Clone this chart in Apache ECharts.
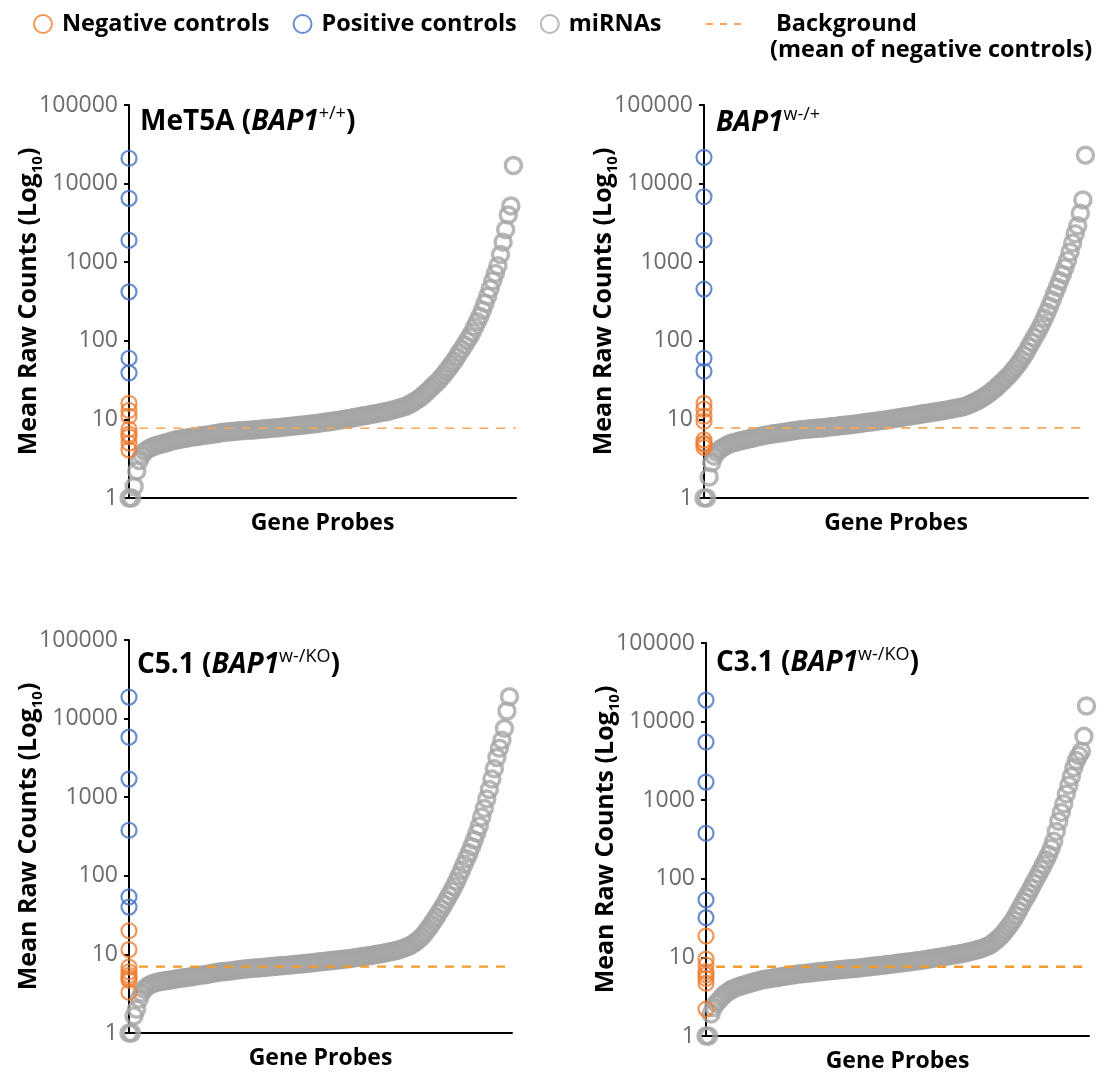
<!DOCTYPE html>
<html>
<head>
<meta charset="utf-8">
<script src="https://cdn.jsdelivr.net/npm/echarts@6/dist/echarts.min.js"></script>
<style>
  html, body { margin: 0; padding: 0; background: #fff; }
  #chart { width: 1106px; height: 1074px; }
</style>
</head>
<body>
<div id="chart"></div>
<script>
// tick labels of the log axis
const yTickLabels = ['1', '10', '100', '1000', '10000', '100000']

// MeT5A (BAP1 +/+)
const posMeT5A = [21000, 6500, 1900, 420, 60, 39]
const negMeT5A = [16, 13, 11, 7.5, 6.5, 6, 5, 4.1]
const bgMeT5A = 7.7
const mirMeT5A = [
  1.0, 1.0, 1.4, 2.2, 3.0, 3.5, 3.9, 4.1, 4.3, 4.45,
  4.6, 4.7, 4.8, 4.9, 5.0, 5.1, 5.25, 5.35, 5.45, 5.55,
  5.6, 5.7, 5.75, 5.85, 5.9, 6.0, 6.05, 6.1, 6.2, 6.25,
  6.3, 6.4, 6.45, 6.5, 6.6, 6.7, 6.8, 6.85, 6.9, 6.95,
  7.0, 7.05, 7.1, 7.15, 7.2, 7.25, 7.3, 7.3, 7.35, 7.4,
  7.45, 7.5, 7.55, 7.6, 7.65, 7.7, 7.75, 7.8, 7.85, 7.9,
  8.0, 8.05, 8.1, 8.2, 8.25, 8.3, 8.4, 8.45, 8.5, 8.6,
  8.65, 8.75, 8.8, 8.9, 9.0, 9.1, 9.2, 9.3, 9.4, 9.5,
  9.6, 9.7, 9.8, 9.95, 10.1, 10.2, 10.35, 10.5, 10.65, 10.8,
  10.95, 11.1, 11.25, 11.4, 11.6, 11.75, 11.9, 12.1, 12.3, 12.45,
  12.6, 12.9, 13.1, 13.4, 13.7, 14.0, 14.3, 14.6, 15.1, 15.7,
  16.4, 17.2, 18.0, 19.0, 20.3, 21.8, 23.3, 25, 27, 29,
  31, 34, 37, 41, 45, 50, 55, 62, 70, 78,
  88, 100, 112, 128, 150, 175, 205, 245, 300, 370,
  460, 580, 720, 900, 1250, 1800, 2600, 4000, 5200, 17000
]

// BAP1 w-/+
const posWt = [21600, 6800, 1900, 455, 60, 41]
const negWt = [16, 13.5, 11, 9.5, 5.5, 5.0, 4.8, 4.4]
const bgWt = 7.8
const mirWt = [
  1.0, 1.0, 1.85, 2.8, 3.4, 3.8, 4.1, 4.3, 4.5, 4.7,
  4.9, 5.0, 5.1, 5.2, 5.3, 5.4, 5.5, 5.6, 5.7, 5.8,
  5.9, 6.0, 6.1, 6.2, 6.3, 6.4, 6.45, 6.5, 6.6, 6.65,
  6.75, 6.8, 6.9, 7.0, 7.05, 7.15, 7.25, 7.35, 7.4, 7.45,
  7.5, 7.55, 7.6, 7.65, 7.7, 7.75, 7.8, 7.85, 7.95, 8.0,
  8.1, 8.15, 8.2, 8.3, 8.35, 8.4, 8.5, 8.55, 8.65, 8.7,
  8.8, 8.9, 9.0, 9.1, 9.2, 9.3, 9.35, 9.45, 9.55, 9.65,
  9.75, 9.85, 9.95, 10.1, 10.2, 10.35, 10.5, 10.6, 10.75, 10.9,
  11.0, 11.15, 11.3, 11.4, 11.55, 11.7, 11.85, 12.0, 12.1, 12.25,
  12.4, 12.55, 12.7, 12.85, 13.0, 13.2, 13.4, 13.6, 13.8, 14.0,
  14.2, 14.4, 14.7, 15.1, 15.6, 16.2, 16.8, 17.4, 18.2, 19.0,
  20, 21, 22.3, 23.7, 25, 27, 29, 31, 33.5, 36,
  39, 43, 47, 52, 58, 65, 73, 84, 96, 110,
  125, 143, 165, 195, 230, 275, 330, 400, 480, 580,
  700, 850, 1050, 1350, 1750, 2300, 2900, 4200, 6200, 23000
]

// C5.1 (BAP1 w-/KO)
const posC51 = [18800, 5800, 1700, 380, 54, 40]
const negC51 = [20, 11.5, 6.9, 6.0, 5.4, 5.0, 4.7, 3.3]
const bgC51 = 7.0
const mirC51 = [
  1.0, 1.0, 1.65, 2.0, 2.7, 3.2, 3.6, 3.85, 4.05, 4.2,
  4.3, 4.4, 4.5, 4.55, 4.6, 4.65, 4.7, 4.75, 4.8, 4.9,
  4.95, 5.0, 5.05, 5.1, 5.15, 5.2, 5.3, 5.35, 5.4, 5.45,
  5.5, 5.6, 5.65, 5.75, 5.8, 5.9, 5.95, 6.0, 6.05, 6.1,
  6.15, 6.2, 6.3, 6.35, 6.4, 6.45, 6.5, 6.55, 6.6, 6.65,
  6.7, 6.7, 6.75, 6.8, 6.85, 6.9, 6.95, 7.0, 7.05, 7.1,
  7.15, 7.2, 7.25, 7.3, 7.35, 7.4, 7.45, 7.5, 7.55, 7.6,
  7.65, 7.7, 7.8, 7.85, 7.9, 8.0, 8.05, 8.1, 8.2, 8.25,
  8.3, 8.4, 8.45, 8.5, 8.6, 8.65, 8.75, 8.8, 8.9, 9.0,
  9.1, 9.2, 9.3, 9.4, 9.5, 9.6, 9.7, 9.85, 9.95, 10.1,
  10.2, 10.35, 10.5, 10.7, 10.85, 11.0, 11.2, 11.4, 11.7, 12.0,
  12.3, 12.7, 13.2, 13.8, 14.6, 15.5, 16.5, 18.0, 19.7, 21.7,
  24, 27, 30, 34, 38, 43, 49, 56, 64, 73,
  85, 100, 118, 140, 165, 195, 235, 285, 350, 430,
  560, 720, 950, 1250, 1700, 2300, 3200, 4200, 5300, 7500,
  12500, 19000
]

// C3.1 (BAP1 w-/KO)
const posC31 = [18800, 5500, 1700, 380, 54, 32]
const negC31 = [18.7, 9.5, 8.0, 6.6, 6.0, 5.4, 4.7, 2.2]
const bgC31 = 7.6
const mirC31 = [
  1.0, 1.0, 1.9, 2.3, 2.6, 2.8, 3.05, 3.3, 3.5, 3.7,
  3.9, 4.0, 4.15, 4.25, 4.35, 4.45, 4.55, 4.65, 4.75, 4.85,
  4.95, 5.05, 5.15, 5.25, 5.3, 5.35, 5.4, 5.5, 5.55, 5.6,
  5.7, 5.75, 5.8, 5.9, 5.95, 6.0, 6.1, 6.15, 6.2, 6.25,
  6.3, 6.35, 6.4, 6.45, 6.5, 6.55, 6.6, 6.65, 6.7, 6.75,
  6.8, 6.85, 6.9, 6.95, 7.0, 7.05, 7.1, 7.15, 7.2, 7.25,
  7.3, 7.35, 7.45, 7.5, 7.55, 7.6, 7.7, 7.75, 7.8, 7.9,
  7.95, 8.0, 8.1, 8.15, 8.25, 8.3, 8.4, 8.5, 8.55, 8.65,
  8.7, 8.8, 8.9, 9.0, 9.05, 9.15, 9.25, 9.35, 9.5, 9.6,
  9.7, 9.8, 9.95, 10.05, 10.2, 10.3, 10.45, 10.6, 10.7, 10.85,
  11.0, 11.15, 11.3, 11.5, 11.7, 11.9, 12.1, 12.3, 12.6, 12.9,
  13.2, 13.6, 14.0, 14.6, 15.4, 16.3, 17.4, 18.7, 20.2, 22.2,
  24.5, 27, 30, 34, 39, 45, 51, 58, 66, 76,
  88, 100, 115, 132, 152, 175, 205, 245, 300, 400,
  540, 700, 900, 1200, 1550, 2000, 2600, 3200, 3700, 4200,
  6500, 15800
]

const FONT = '"Open Sans", "Noto Sans", sans-serif'
const ORANGE = '#ED7D31'
const BLUE = '#4472C4'
const GRAY = '#A5A5A5'

// panel layout (pixel boxes) + which arrays go where
const panels = [
  { title: '{b|MeT5A (}{bi|BAP1}{sup|+/+}{b|)}', pos: posMeT5A, neg: negMeT5A, bg: bgMeT5A, mir: mirMeT5A,
    grid: { left: 129, top: 105, width: 387, height: 393 }, titlePos: [140, 105], bgColor: '#F6A55A', bgWidth: 1.6 },
  { title: '{bi|BAP1}{sup|w-/+}', pos: posWt, neg: negWt, bg: bgWt, mir: mirWt,
    grid: { left: 704, top: 105, width: 384, height: 393 }, titlePos: [716, 106], bgColor: '#F6A55A', bgWidth: 1.6 },
  { title: '{b|C5.1 (}{bi|BAP1}{sup|w-/KO}{b|)}', pos: posC51, neg: negC51, bg: bgC51, mir: mirC51,
    grid: { left: 129, top: 640, width: 383, height: 393 }, titlePos: [137, 648], bgColor: '#F39A2C', bgWidth: 2.4 },
  { title: '{b|C3.1 (}{bi|BAP1}{sup|w-/KO}{b|)}', pos: posC31, neg: negC31, bg: bgC31, mir: mirC31,
    grid: { left: 706, top: 643, width: 383, height: 393 }, titlePos: [716, 646], bgColor: '#F39A2C', bgWidth: 2.4 }
]

const ring = (color, w) => ({ color: 'rgba(255,255,255,0)', borderColor: color, borderWidth: w || 2 })

const titleRich = {
  b: { fontFamily: FONT, fontSize: 28, fontWeight: 'bold', color: '#000', lineHeight: 34 },
  bi: { fontFamily: FONT, fontSize: 28, fontWeight: 'bold', fontStyle: 'italic', color: '#000', lineHeight: 34 },
  sup: { fontFamily: FONT, fontSize: 18, fontWeight: 'normal', color: '#000', verticalAlign: 'top', lineHeight: 22 }
}

const option = {
  backgroundColor: '#fff',
  animation: false,
  title: [],
  grid: [],
  xAxis: [],
  yAxis: [],
  series: [],
  legend: [
    {
      left: 28, top: 7,
      itemWidth: 28, itemHeight: 18, itemGap: 23,
      selectedMode: false,
      icon: 'circle',
      textStyle: { fontFamily: FONT, fontSize: 23.5, fontWeight: 'bold', color: '#000' },
      data: [
        { name: 'Negative controls', itemStyle: ring(ORANGE) },
        { name: 'Positive controls', itemStyle: ring(BLUE) },
        { name: 'miRNAs', itemStyle: ring(GRAY) }
      ]
    },
    {
      left: 700, top: 7,
      itemWidth: 36, itemHeight: 18,
      selectedMode: false,
      textStyle: { fontFamily: FONT, fontSize: 23.5, fontWeight: 'bold', color: '#000', padding: [0, 0, 0, 29] },
      data: [
        { name: 'Background', lineStyle: { color: '#F6A55A', width: 2, type: [7, 7] }, itemStyle: { opacity: 0 } }
      ]
    }
  ],
  graphic: [
    {
      type: 'text', left: 770, top: 38,
      style: { text: '(mean of negative controls)', font: 'bold 23.5px ' + FONT, fill: '#000' }
    }
  ]
}

panels.forEach((p, k) => {
  option.title.push({
    text: p.title,
    left: p.titlePos[0], top: p.titlePos[1], padding: 0,
    textStyle: { rich: titleRich }
  })
  option.grid.push(p.grid)
  option.xAxis.push({
    gridIndex: k, type: 'value', min: 0, max: p.mir.length,
    name: 'Gene Probes', nameLocation: 'middle', nameGap: 14,
    nameTextStyle: { fontFamily: FONT, fontSize: 23, fontWeight: 'bold', color: '#000', verticalAlign: 'top' },
    axisLine: { show: true, onZero: false, lineStyle: { color: '#000', width: 2 } },
    axisTick: { show: false }, axisLabel: { show: false }, splitLine: { show: false }
  })
  option.yAxis.push({
    gridIndex: k, type: 'log', logBase: 10, min: 1, max: 100000,
    name: '{n|Mean Raw Counts (Log}{s|10}{n|)}', nameLocation: 'middle', nameGap: 84,
    nameMoveOverlap: false,
    nameTextStyle: {
      rich: {
        n: { fontFamily: FONT, fontSize: 25, fontWeight: 'bold', color: '#000', lineHeight: 32 },
        s: { fontFamily: FONT, fontSize: 15, fontWeight: 'bold', color: '#000', verticalAlign: 'bottom', lineHeight: 16 }
      }
    },
    axisLine: { show: true, lineStyle: { color: '#000', width: 2 } },
    axisTick: { show: true, inside: false, length: 5, lineStyle: { color: '#000', width: 2 } },
    minorTick: { show: false },
    axisLabel: {
      margin: 11, fontFamily: FONT, fontSize: 23, color: '#6b6b6b', padding: [8, 0, 0, 0],
      formatter: (v, i) => yTickLabels[i]
    },
    splitLine: { show: false }
  })

  option.series.push({
    name: 'miRNAs', type: 'scatter', xAxisIndex: k, yAxisIndex: k,
    symbol: 'circle', symbolSize: 16, silent: true, z: 2,
    itemStyle: ring(GRAY, 3.5),
    data: p.mir.map((v, i) => [i, v])
  })
  option.series.push({
    name: 'Background', type: 'line', xAxisIndex: k, yAxisIndex: k,
    symbol: 'none', silent: true, z: 3,
    lineStyle: { color: p.bgColor, width: p.bgWidth, type: [9, 8] },
    data: [[4, p.bg], [p.mir.length, p.bg]]
  })
  option.series.push({
    name: 'Negative controls', type: 'scatter', xAxisIndex: k, yAxisIndex: k,
    symbol: 'circle', symbolSize: 15, silent: true, z: 4,
    itemStyle: ring(ORANGE, 2.2),
    data: p.neg.map(v => [0, v])
  })
  option.series.push({
    name: 'Positive controls', type: 'scatter', xAxisIndex: k, yAxisIndex: k,
    symbol: 'circle', symbolSize: 15, silent: true, z: 5,
    itemStyle: ring(BLUE, 2.2),
    data: p.pos.map(v => [0, v])
  })
})

const chart = echarts.init(document.getElementById('chart'))
chart.setOption(option)
</script>
</body>
</html>
